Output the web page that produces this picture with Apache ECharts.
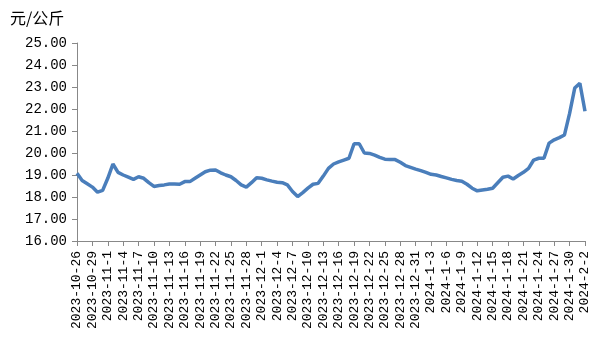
<!DOCTYPE html>
<html>
<head>
<meta charset="utf-8">
<script src="https://cdn.jsdelivr.net/npm/echarts@6/dist/echarts.min.js"></script>
<style>html,body{margin:0;padding:0;background:#fff}#c{width:600px;height:360px}</style>
</head>
<body>
<div id="c"></div>
<script>
var unitLabel = '元/公斤';
var categories = [
'2023-10-26','2023-10-27','2023-10-28','2023-10-29','2023-10-30','2023-10-31',
'2023-11-1','2023-11-2','2023-11-3','2023-11-4','2023-11-5','2023-11-6','2023-11-7','2023-11-8','2023-11-9','2023-11-10',
'2023-11-11','2023-11-12','2023-11-13','2023-11-14','2023-11-15','2023-11-16','2023-11-17','2023-11-18','2023-11-19','2023-11-20',
'2023-11-21','2023-11-22','2023-11-23','2023-11-24','2023-11-25','2023-11-26','2023-11-27','2023-11-28','2023-11-29','2023-11-30',
'2023-12-1','2023-12-2','2023-12-3','2023-12-4','2023-12-5','2023-12-6','2023-12-7','2023-12-8','2023-12-9','2023-12-10',
'2023-12-11','2023-12-12','2023-12-13','2023-12-14','2023-12-15','2023-12-16','2023-12-17','2023-12-18','2023-12-19','2023-12-20',
'2023-12-21','2023-12-22','2023-12-23','2023-12-24','2023-12-25','2023-12-26','2023-12-27','2023-12-28','2023-12-29','2023-12-30',
'2023-12-31','2024-1-1','2024-1-2','2024-1-3','2024-1-4','2024-1-5','2024-1-6','2024-1-7','2024-1-8','2024-1-9',
'2024-1-10','2024-1-11','2024-1-12','2024-1-13','2024-1-14','2024-1-15','2024-1-16','2024-1-17','2024-1-18','2024-1-19',
'2024-1-20','2024-1-21','2024-1-22','2024-1-23','2024-1-24','2024-1-25','2024-1-26','2024-1-27','2024-1-28','2024-1-29',
'2024-1-30','2024-1-31','2024-2-1','2024-2-2'
];
var prices = [
19.08,18.75,18.60,18.45,18.22,18.30,
18.85,19.50,19.12,19.00,18.90,18.80,18.92,18.85,18.65,18.48,
18.52,18.55,18.59,18.59,18.58,18.70,18.70,18.85,19.00,19.15,
19.22,19.23,19.10,19.00,18.92,18.75,18.55,18.45,18.65,18.88,
18.85,18.78,18.72,18.67,18.65,18.55,18.25,18.02,18.20,18.40,
18.58,18.62,18.95,19.30,19.50,19.60,19.68,19.76,20.42,20.42,
20.00,19.98,19.90,19.80,19.72,19.70,19.70,19.58,19.43,19.35,
19.27,19.20,19.12,19.03,19.00,18.93,18.87,18.80,18.75,18.72,
18.58,18.40,18.28,18.32,18.35,18.40,18.65,18.90,18.95,18.82,
18.98,19.12,19.30,19.68,19.76,19.76,20.45,20.60,20.70,20.82,
21.80,22.95,23.17,21.90
];
var yMin = 16, yMax = 25, yStep = 1;

var chart = echarts.init(document.getElementById('c'));
var axisColor = '#888888';
chart.setOption({
  animation: false,
  graphic: [{
    type: 'text', left: 10, top: 10,
    style: { text: unitLabel, font: '16px "Noto Sans CJK SC"', fill: '#000' }
  }],
  grid: { left: 77, right: 15, top: 43, bottom: 119 },
  xAxis: {
    type: 'category',
    data: categories,
    boundaryGap: false,
    axisLine: { lineStyle: { color: axisColor, width: 1 } },
    axisTick: { interval: 2, length: 5, lineStyle: { color: axisColor } },
    axisLabel: {
      interval: 2, rotate: 90, margin: 10,
      fontFamily: '"Liberation Mono"', fontSize: 13, color: '#000'
    },
    splitLine: { show: false }
  },
  yAxis: {
    type: 'value',
    min: yMin, max: yMax, interval: yStep,
    axisLine: { show: true, lineStyle: { color: axisColor, width: 1 } },
    axisTick: { show: true, length: 5, lineStyle: { color: axisColor } },
    axisLabel: {
      margin: 10, fontFamily: '"Liberation Mono"', fontSize: 14, color: '#000',
      formatter: function (v) { return v.toFixed(2); }
    },
    splitLine: { show: false }
  },
  series: [{
    type: 'line',
    data: prices,
    showSymbol: false,
    symbol: 'none',
    lineStyle: { color: '#4a7ebb', width: 3.5 },
    itemStyle: { color: '#4a7ebb' }
  }]
});
</script>
</body>
</html>
